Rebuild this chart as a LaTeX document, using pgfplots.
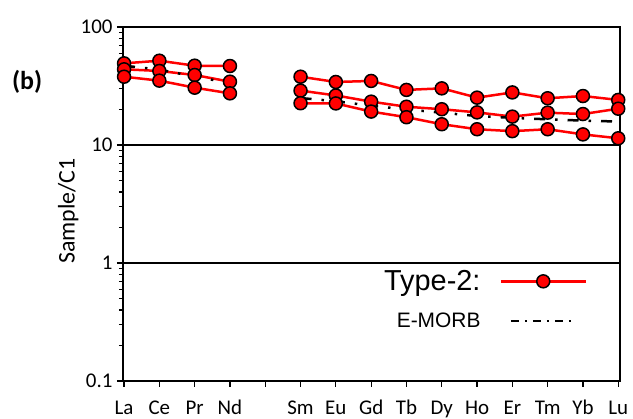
\documentclass[border=0pt]{standalone}
\usepackage{pgfplots}
\pgfplotsset{compat=1.18}
\usepackage{pgfplotstable}
\usepackage{fontspec}
\setmainfont{Carlito}
\newfontfamily\arialf{Liberation Sans}

\pgfplotsset{
 typeleg/.style={legend image code/.code={\draw[mark repeat=2, mark phase=2, ##1] plot coordinates {(0bp,0bp) (42.5bp,0bp) (85bp,0bp)};}},
 emorbleg/.style={legend image code/.code={\draw[##1, dash pattern=on 8bp off 6bp on 2bp off 6bp] (10bp,0bp) -- (75bp,0bp);}},
}

\pgfplotstableread{
x A B C E
0 49.2 43.8 37.9 47.0
1 51.8 42.4 35.1 43.5
2 47.0 39.2 30.6 38.0
3 46.7 34.4 27.4 33.5
4 nan nan nan nan
5 37.9 28.9 22.6 25.0
6 34.2 26.3 22.5 23.5
7 34.9 23.3 19.2 21.5
8 29.3 21.1 17.2 20.0
9 30.2 20.1 15.0 18.8
10 25.2 18.9 13.6 17.6
11 27.9 17.4 13.1 17.0
12 24.9 18.8 13.6 16.5
13 26.0 18.3 12.3 16.1
14 24.1 20.3 11.4 15.8
}\data

\begin{document}
\begin{tikzpicture}
\useasboundingbox (0,0) rectangle (633bp,419bp);
\begin{axis}[
 at={(123bp,38bp)}, anchor=south west,
 width=497bp, height=354bp, scale only axis,
 ymode=log, ymin=0.1, ymax=100,
 xmin=-0.03, xmax=14.05,
 xtick={0,...,14},
 xticklabels={La,Ce,Pr,Nd,,Sm,Eu,Gd,Tb,Dy,Ho,Er,Tm,Yb,Lu},
 ytick={0.1,1,10,100},
 minor ytick={0.2,0.3,0.4,0.5,0.6,0.7,0.8,0.9,2,3,4,5,6,7,8,9,20,30,40,50,60,70,80,90},
 log ticks with fixed point,
 /pgf/number format/assume math mode=true,
 tick pos=left, tick align=outside,
 major tick length=6bp, minor tick length=4bp,
 tick style={black, line width=1.2bp},
 axis line style={line width=2bp},
 ymajorgrids, major grid style={black, line width=2bp},
 ticklabel style={font=\fontsize{21}{23}\selectfont},
 xticklabel style={anchor=base, yshift=-28bp},
 yticklabel style={xshift=-1bp},
 ylabel={Sample/C1},
 ylabel style={font=\fontsize{24}{26}\selectfont, at={(axis description cs:-0.11,0.48)}, anchor=center},
 unbounded coords=jump,
 clip=false,
 legend plot pos=right,
 legend cell align=right,
 legend style={draw=none, fill=none, at={(axis description cs:0.934,0.14)}, anchor=south east, inner sep=0pt, row sep=17bp, column sep=17bp},
 samp/.style={red, line width=2.5bp, mark=*, mark size=6.5bp, mark options={fill=red, draw=black, line width=1.5bp, solid}},
]
\addplot[samp, typeleg] table[x=x, y=A] {\data};
\addlegendentry{\arialf\fontsize{29}{32}\selectfont Type-2:}
\addplot[samp, forget plot] table[x=x, y=B] {\data};
\addplot[samp, forget plot] table[x=x, y=C] {\data};
\addplot[black, line width=2.5bp, dash pattern=on 11bp off 10bp on 2.5bp off 10bp, emorbleg] table[x=x, y=E] {\data};
\addlegendentry{\arialf\fontsize{21}{24}\selectfont E-MORB}
\node[font=\bfseries\fontsize{26}{28}\selectfont] at (axis description cs:-0.193,0.845) {(b)};
\end{axis}
\end{tikzpicture}
\end{document}
